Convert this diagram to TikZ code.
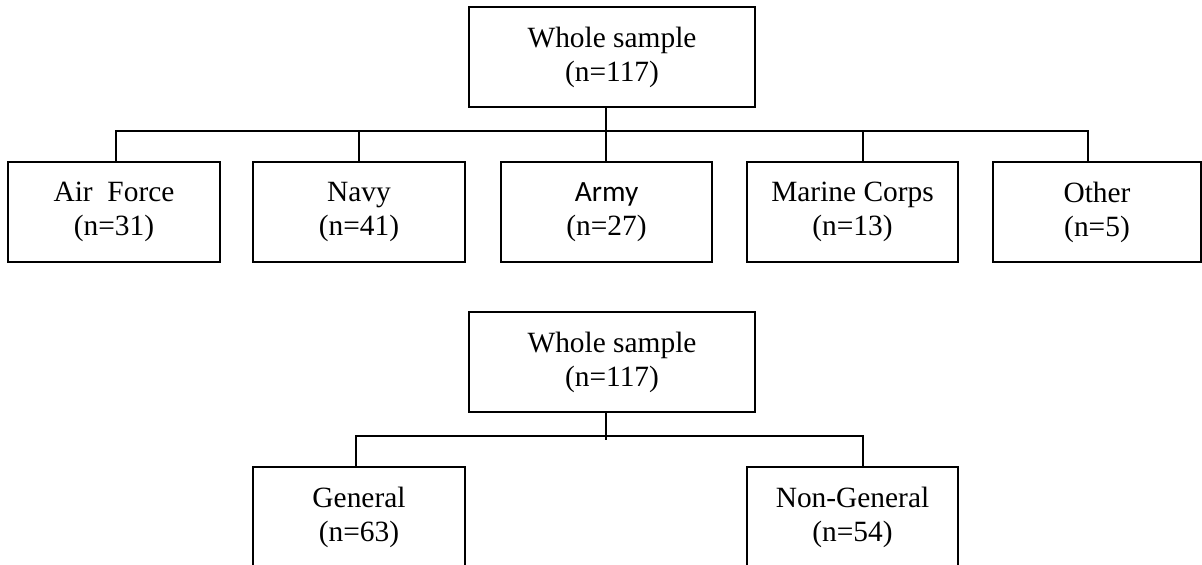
\documentclass[tikz,border=0pt]{standalone}
\usepackage{fontspec}
\setmainfont{Liberation Serif}
\newfontfamily\armyfont{Carlito}
\usetikzlibrary{positioning}

\begin{document}
\begin{tikzpicture}[
  x=0.5pt, y=-0.5pt,
  font=\fontsize{14.7}{17}\selectfont,
  box/.style={draw, line width=0.7pt, minimum width=106pt, minimum height=50pt, align=center, inner sep=2pt},
  wide/.style={box, minimum width=143pt},
  link/.style={line width=0.7pt}
]
\useasboundingbox (0,0) rectangle (1202,564);

\node[wide] (whole) at (612,57) {Whole sample\\(n=117)};
\node[box] (air) at (114,212) {Air\ \ Force\\(n=31)};
\node[box] (navy) at (359,212) {Navy\\(n=41)};
\node[box, minimum width=105.5pt] (army) at (606.5,212) {{\armyfont Army}\\(n=27)};
\node[box, minimum width=105.5pt] (marine) at (852.5,212) {Marine Corps\\(n=13)};
\node[box, minimum width=104pt] (other) at (1097,212) {Other\\(n=5)};

\coordinate (split) at (606,131);
\draw[link] (whole.south -| split) -- (army.north -| split);
\draw[link] ([xshift=1pt]air.north) |- (split) -| ([xshift=-4.5pt]other.north);
\draw[link] (navy.north) -- (navy.north |- split);
\draw[link] ([xshift=5.25pt]marine.north) -- ([xshift=5.25pt]marine.north |- split);

\node[wide] (whole2) at (612,362) {Whole sample\\(n=117)};
\node[box] (general) at (359,517) {General\\(n=63)};
\node[box, minimum width=105.5pt] (nongeneral) at (852.5,517) {Non-General\\(n=54)};

\coordinate (split2) at (606,436);
\draw[link] (whole2.south -| split2) -- ++(0,27);
\draw[link] ([xshift=-1.5pt]general.north) |- (split2) -| ([xshift=5.25pt]nongeneral.north);
\end{tikzpicture}
\end{document}
